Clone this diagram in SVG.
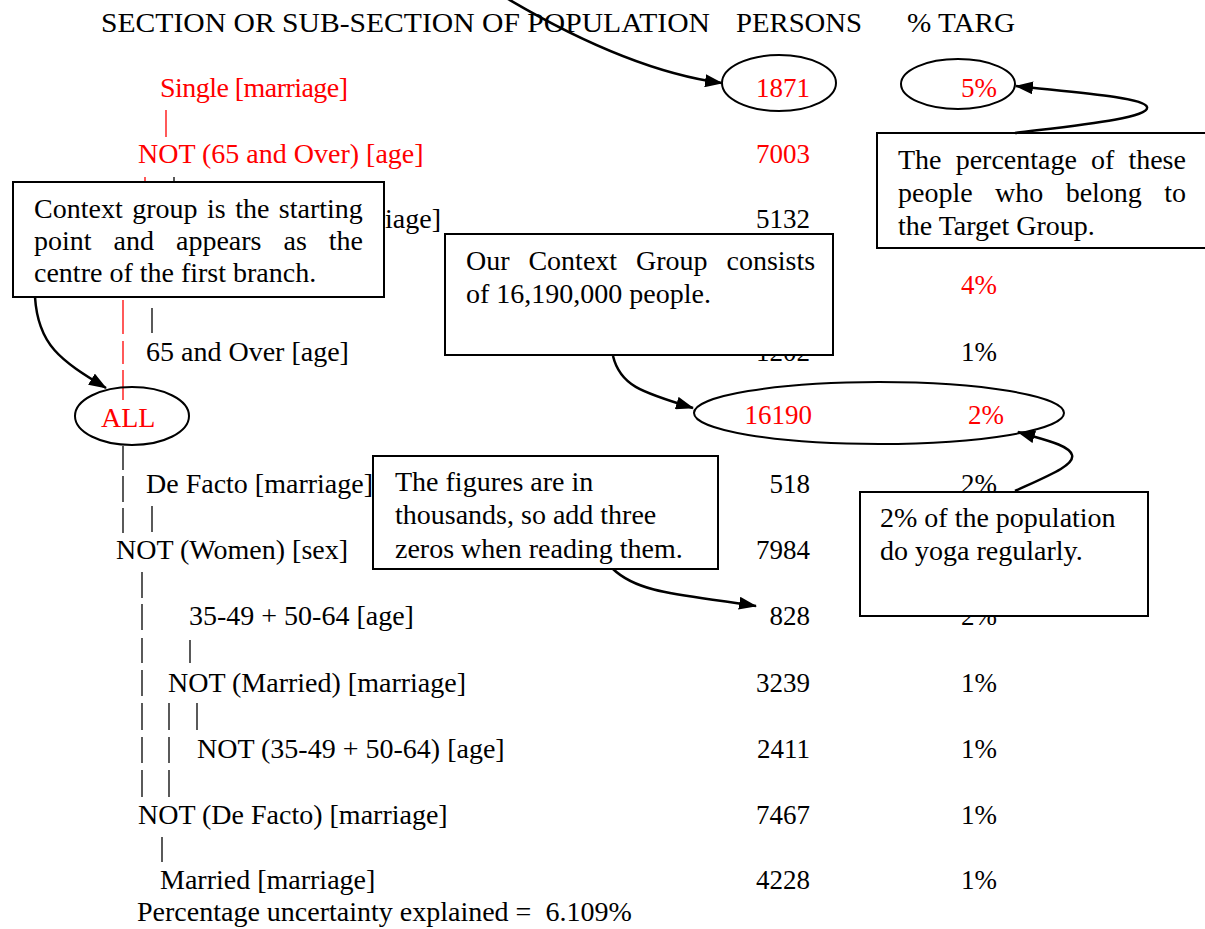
<svg xmlns="http://www.w3.org/2000/svg" width="1205" height="929" viewBox="0 0 1205 929">
<defs>
<style>
text{font-family:"Liberation Serif","Times New Roman",serif;font-size:28px;fill:#000}
.r{fill:#ff0000}
.n{text-anchor:end;font-size:27px}
.pipe{stroke:#000;stroke-width:1.3}
.pr{stroke:#ff0000}
.box{fill:#fff;stroke:#000;stroke-width:2}
.ell{fill:none;stroke:#000;stroke-width:2}
.arr{fill:none;stroke:#000;stroke-width:2.5;marker-end:url(#ah)}
</style>
<marker id="ah" viewBox="0 0 18 13" refX="17" refY="6.5" markerWidth="18" markerHeight="13" markerUnits="userSpaceOnUse" orient="auto"><path d="M0,0 L18,6.5 L0,13 z" fill="#000"/></marker>
<clipPath id="c3"><rect x="878" y="134" width="326" height="113"/></clipPath>
<clipPath id="c5"><rect x="374" y="457" width="343" height="111"/></clipPath>
</defs>
<rect x="0" y="0" width="1205" height="929" fill="#fff"/>

<g id="header">
<text x="101" y="32" textLength="609" lengthAdjust="spacingAndGlyphs">SECTION OR SUB-SECTION OF POPULATION</text>
<text x="736" y="32" textLength="126" lengthAdjust="spacingAndGlyphs">PERSONS</text>
<text x="907" y="32" textLength="108" lengthAdjust="spacingAndGlyphs">% TARG</text>
</g>

<g id="tree-pipes">
<line class="pipe pr" x1="166" y1="110" x2="166" y2="137"/>
<line class="pipe pr" x1="145" y1="177" x2="145" y2="200"/>
<line class="pipe" x1="174" y1="177" x2="174" y2="200"/>
<line class="pipe pr" x1="123" y1="300" x2="123" y2="334"/>
<line class="pipe pr" x1="123" y1="341" x2="123" y2="364"/>
<line class="pipe pr" x1="123" y1="370" x2="123" y2="400"/>
<line class="pipe" x1="152" y1="308" x2="152" y2="333"/>
<line class="pipe" x1="123" y1="446" x2="123" y2="470"/>
<line class="pipe" x1="123" y1="476" x2="123" y2="502"/>
<line class="pipe" x1="123" y1="508" x2="123" y2="533"/>
<line class="pipe" x1="152" y1="506" x2="152" y2="532"/>
<line class="pipe" x1="142" y1="572" x2="142" y2="598"/>
<line class="pipe" x1="142" y1="604" x2="142" y2="630"/>
<line class="pipe" x1="142" y1="638" x2="142" y2="663"/>
<line class="pipe" x1="142" y1="670" x2="142" y2="696"/>
<line class="pipe" x1="142" y1="703" x2="142" y2="730"/>
<line class="pipe" x1="142" y1="737" x2="142" y2="763"/>
<line class="pipe" x1="142" y1="770" x2="142" y2="797"/>
<line class="pipe" x1="190" y1="640" x2="190" y2="663"/>
<line class="pipe" x1="169" y1="703" x2="169" y2="730"/>
<line class="pipe" x1="169" y1="737" x2="169" y2="763"/>
<line class="pipe" x1="169" y1="770" x2="169" y2="797"/>
<line class="pipe" x1="197" y1="703" x2="197" y2="730"/>
<line class="pipe" x1="162" y1="837" x2="162" y2="862"/>
</g>

<g id="rows">
<text class="r" x="160" y="97" textLength="188">Single [marriage]</text>
<text class="r n" x="810" y="97">1871</text>
<text class="r n" x="997" y="97">5%</text>
<text class="r" x="138" y="163">NOT (65 and Over) [age]</text>
<text class="r n" x="810" y="163">7003</text>
<text x="441" y="228" style="text-anchor:end">riage]</text>
<text class="n" x="810" y="228">5132</text>
<text class="r n" x="997" y="294">4%</text>
<text x="146" y="361">65 and Over [age]</text>
<text class="n" x="810" y="361">1202</text>
<text class="n" x="997" y="361">1%</text>
<text x="146" y="493">De Facto [marriage]</text>
<text class="n" x="810" y="493">518</text>
<text class="n" x="997" y="493">2%</text>
<text x="116" y="559">NOT (Women) [sex]</text>
<text class="n" x="810" y="559">7984</text>
<text x="189" y="625">35-49 + 50-64 [age]</text>
<text class="n" x="810" y="625">828</text>
<text class="n" x="997" y="625">2%</text>
<text x="168" y="692">NOT (Married) [marriage]</text>
<text class="n" x="810" y="692">3239</text>
<text class="n" x="997" y="692">1%</text>
<text x="197" y="758">NOT (35-49 + 50-64) [age]</text>
<text class="n" x="810" y="758">2411</text>
<text class="n" x="997" y="758">1%</text>
<text x="138" y="824">NOT (De Facto) [marriage]</text>
<text class="n" x="810" y="824">7467</text>
<text class="n" x="997" y="824">1%</text>
<text x="160" y="889">Married [marriage]</text>
<text class="n" x="810" y="889">4228</text>
<text class="n" x="997" y="889">1%</text>
<text x="137" y="921" xml:space="preserve">Percentage uncertainty explained =  6.109%</text>
</g>

<g id="node-1871"><ellipse class="ell" cx="779" cy="83" rx="57" ry="28"/></g>
<g id="node-5pct"><ellipse class="ell" cx="958" cy="84" rx="57" ry="25"/></g>
<g id="node-all"><ellipse class="ell" cx="132" cy="416" rx="57" ry="29"/><text class="r" x="101" y="427">ALL</text></g>
<g id="node-16190"><ellipse class="ell" cx="879" cy="413" rx="185" ry="31"/><text class="r n" x="812" y="424">16190</text><text class="r n" x="1004" y="424">2%</text></g>

<g id="note-context">
<rect class="box" x="13" y="182" width="371" height="115"/>
<text x="34" y="218" word-spacing="2.5">Context group is the starting</text>
<text x="34" y="250" word-spacing="15">point and appears as the</text>
<text x="34" y="282">centre of the first branch.</text>
</g>
<g id="note-ourgroup">
<rect class="box" x="445" y="234" width="388" height="121"/>
<text x="466" y="270" word-spacing="11.9">Our Context Group consists</text>
<text x="466" y="303">of 16,190,000 people.</text>
</g>
<g id="note-percentage">
<rect class="box" x="877" y="133" width="330" height="115"/>
<g clip-path="url(#c3)">
<text x="898" y="169" word-spacing="7.1">The percentage of these</text>
<text x="898" y="202" word-spacing="15.4">people who belong to</text>
<text x="898" y="235">the Target Group.</text>
</g>
</g>
<g id="note-figures">
<rect class="box" x="373" y="456" width="345" height="113"/>
<g clip-path="url(#c5)">
<text x="395" y="491">The figures are in</text>
<text x="395" y="524">thousands, so add three</text>
<text x="395" y="558">zeros when reading them.</text>
</g>
</g>
<g id="note-yoga">
<rect class="box" x="860" y="492" width="288" height="124"/>
<text x="880" y="527">2% of the population</text>
<text x="880" y="560">do yoga regularly.</text>
</g>

<g id="connectors">
<path class="arr" d="M503,-4 C560,30 640,72 722,83"/>
<path class="arr" d="M35,297 C38,345 60,360 106,388"/>
<path class="arr" d="M613,356 C620,385 640,392 693,408"/>
<path class="arr" d="M613,569 C640,595 690,595 756,606"/>
<path class="arr" d="M1015,133 C1080,125 1150,118 1147,107 C1144,97 1070,92 1016,86"/>
<path class="arr" d="M1015,491 C1050,475 1075,465 1072,455 C1069,445 1045,440 1018,432"/>
</g>
</svg>
